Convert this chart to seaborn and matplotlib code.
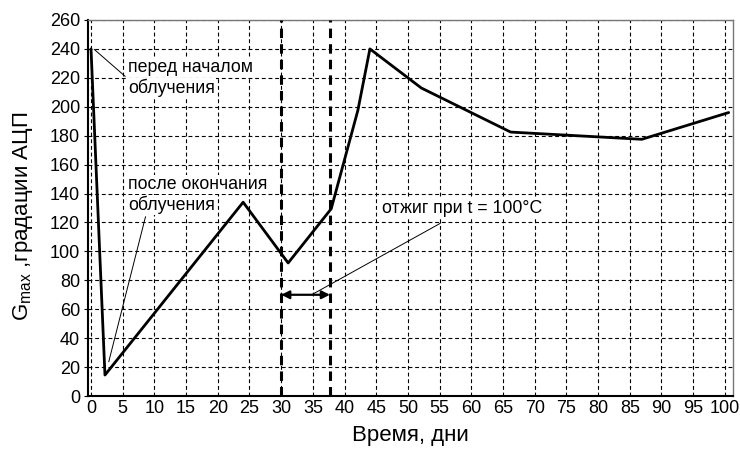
import matplotlib
matplotlib.use("Agg")
import matplotlib.pyplot as plt
import seaborn as sns
import pandas as pd

days = [0, 2.2, 24, 31.1, 37.9, 42.1, 44, 52.1, 66.2, 86.9, 100.6]
gmax = [240, 14.5, 134, 92, 129.5, 197.5, 240, 213, 182.5, 177.5, 196]
anneal_days = [30, 37.7]
x_ticks = list(range(0, 101, 5))
y_ticks = list(range(0, 261, 20))

sns.set_theme(style="ticks")
plt.rcParams['font.family'] = ['Liberation Sans', 'DejaVu Sans']
plt.rcParams['mathtext.default'] = 'regular'
for k in ['text.color', 'axes.labelcolor', 'xtick.color', 'ytick.color',
          'xtick.labelcolor', 'ytick.labelcolor']:
    plt.rcParams[k] = 'black'

df = pd.DataFrame({"day": days, "g": gmax})

fig = plt.figure(figsize=(7.4, 4.49), dpi=100)
ax = fig.add_axes([0.1193, 0.118, 0.8714, 0.8375])

ax.set_xlim(-0.43, 101.3)
ax.set_ylim(0, 260)
ax.set_xticks(x_ticks)
ax.set_yticks(y_ticks)
ax.grid(True, color='black', linestyle=(0, (3.5, 2.5)), linewidth=0.8)
ax.set_axisbelow(True)

sns.lineplot(data=df, x="day", y="g", ax=ax, color='black', linewidth=2.0,
             sort=False, estimator=None, zorder=5)

for d in anneal_days:
    ax.axvline(d, color='black', linewidth=2.2, linestyle=(0, (3.1, 2.0)), zorder=4)

ax.annotate('', xy=(anneal_days[0], 70), xytext=(anneal_days[1], 70),
            arrowprops=dict(arrowstyle='<|-|>', color='black', lw=1.6,
                            mutation_scale=12, shrinkA=0, shrinkB=0), zorder=6)

# annotation leader lines
ax.plot([0.5, 5.4], [239.7, 221], color='black', linewidth=0.7, zorder=6)
ax.plot([2.8, 8.6], [23.7, 124], color='black', linewidth=0.7, zorder=6)
ax.plot([34.8, 55.1], [70, 119.4], color='black', linewidth=0.7, zorder=6)

box = dict(facecolor='white', edgecolor='none', pad=0.6)
tkw = dict(fontsize=12.8, va='baseline', ha='left', zorder=7, bbox=box, color='black')
ax.text(5.9, 224.1, 'перед началом', **tkw)
ax.text(5.9, 209.7, 'облучения', **tkw)
ax.text(5.85, 143.2, 'после окончания', **tkw)
ax.text(5.85, 128.6, 'облучения', **tkw)
ax.text(45.9, 126.3, 'отжиг при t = 100°C', **tkw)

ax.set_xlabel('Время, дни', fontsize=16, color='black')
ax.set_ylabel(r'G$_{max}$ ,градации АЦП', fontsize=16, color='black')
ax.xaxis.set_label_coords(0.5, -0.077)
ax.yaxis.set_label_coords(-0.083, 0.477)

ax.tick_params(axis='x', length=0, labelsize=13, pad=3, labelcolor='black')
ax.tick_params(axis='y', length=3, width=0.8, labelsize=13, pad=3, color='black',
               labelcolor='black')

for side in ['left', 'bottom']:
    ax.spines[side].set_color('black')
    ax.spines[side].set_linewidth(1.5)
for side in ['top', 'right']:
    ax.spines[side].set_color('#777777')
    ax.spines[side].set_linewidth(1.0)

fig.savefig('out.png', dpi=100)
